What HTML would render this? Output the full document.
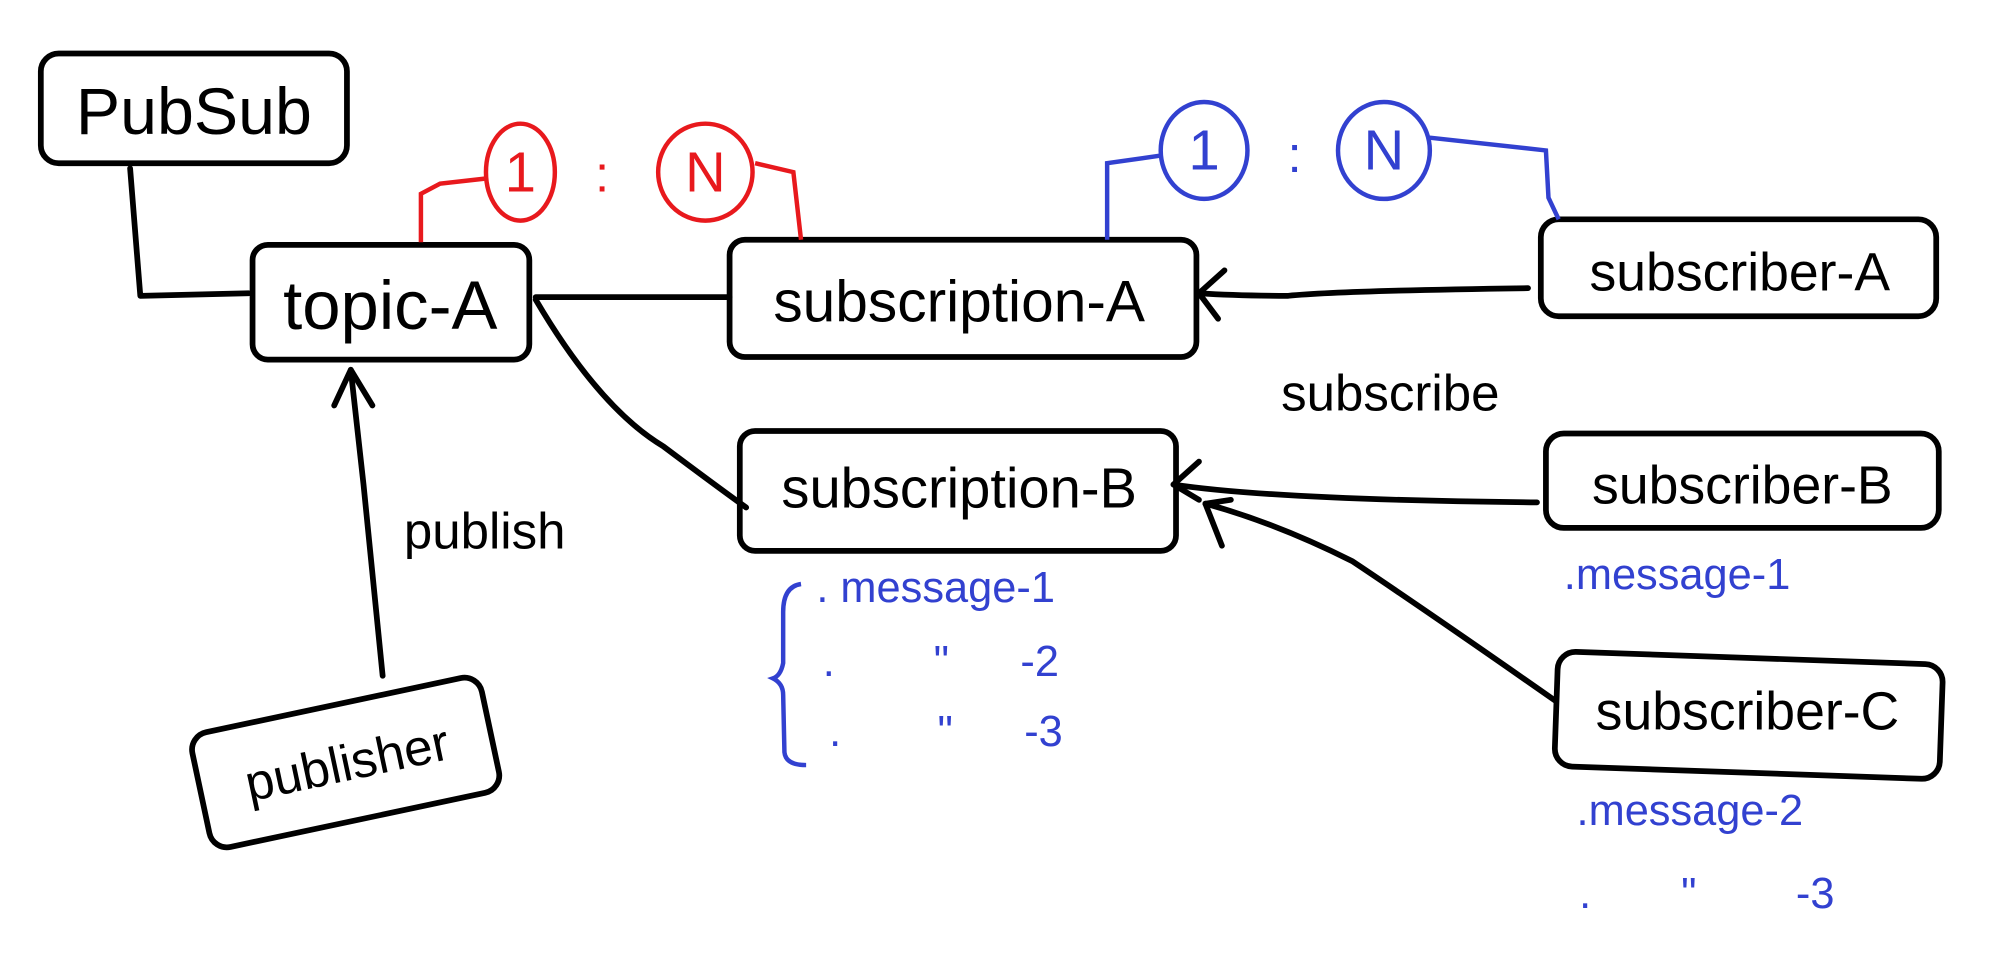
<!DOCTYPE html>
<html><head><style>
html,body{margin:0;padding:0;background:#fff;}
svg{display:block;}
text{font-family:"Liberation Sans Narrow","Liberation Sans",sans-serif;}
</style></head><body>
<svg width="2000" height="978" viewBox="0 0 1568 767" preserveAspectRatio="none" xmlns="http://www.w3.org/2000/svg">
<g fill="none" stroke="#000" stroke-width="4.5" stroke-linecap="round" stroke-linejoin="round">
<rect x="32" y="42" width="240" height="86" rx="14"/>
<rect x="198" y="192" width="217" height="90" rx="12"/>
<rect x="572" y="188" width="366" height="92" rx="12"/>
<rect x="1208" y="172" width="310" height="76" rx="14"/>
<rect x="580" y="338" width="342" height="94" rx="12"/>
<rect x="1212" y="340" width="308" height="74" rx="14"/>
<rect x="1220" y="516" width="302" height="90" rx="14" transform="rotate(2 1371 561)"/>
<rect x="155" y="552" width="232" height="92" rx="14" transform="rotate(-12 271 598)"/>
<path d="M102 132 L110 232 L195 230"/>
<path d="M420 233 L572 233"/>
<path d="M420 235 Q470 320 520 350 Q560 380 585 398"/>
<path d="M1198 226 Q1050 228 1010 232 Q970 232 940 230"/>
<path d="M960 212 L940 230 L955 250"/>
<path d="M1205 394 Q1000 392 920 380"/>
<path d="M940 362 L920 380 L940 392"/>
<path d="M1220 550 Q1120 480 1060 440 Q1000 410 945 395"/>
<path d="M965 392 L945 395 L958 428"/>
<path d="M300 530 L285 380 L275 290"/>
<path d="M262 318 L275 290 L292 318"/>
</g>
<g fill="none" stroke="#e8191d" stroke-width="3.5">
<ellipse cx="408" cy="135" rx="27" ry="38"/>
<ellipse cx="553" cy="135" rx="37" ry="38"/>
<path d="M330 190 L330 152 L345 144 L381 140"/>
<path d="M592 128 L622 135 L628 188"/>
</g>
<g fill="none" stroke="#3241d0" stroke-width="3.5">
<ellipse cx="944" cy="118" rx="34" ry="38"/>
<ellipse cx="1085" cy="118" rx="36" ry="38"/>
<path d="M868 188 L868 128 L910 122"/>
<path d="M1121 108 L1212 118 L1214 155 L1222 172"/>
<path d="M628 458 Q614 460 614 480 L614 520 Q612 530 606 532 Q614 536 614 545 L615 590 Q616 600 632 600"/>
</g>
<g fill="#e8191d" text-anchor="middle">
<text x="408" y="150" font-size="44">1</text>
<text x="553" y="150" font-size="44">N</text>
<text x="472" y="150" font-size="40">:</text>
</g>
<g fill="#3241d0" text-anchor="middle">
<text x="944" y="133" font-size="44">1</text>
<text x="1085" y="133" font-size="44">N</text>
<text x="1015" y="135" font-size="40">:</text>
</g>
<g fill="#000">
<text x="152" y="105" font-size="52" text-anchor="middle">PubSub</text>
<text x="306" y="258" font-size="54" text-anchor="middle">topic-A</text>
<text x="752" y="252" font-size="46" text-anchor="middle">subscription-A</text>
<text x="1364" y="228" font-size="42" text-anchor="middle">subscriber-A</text>
<text x="752" y="398" font-size="44" text-anchor="middle">subscription-B</text>
<text x="1366" y="395" font-size="42" text-anchor="middle">subscriber-B</text>
<text x="1370" y="572" font-size="42" text-anchor="middle">subscriber-C</text>
<text x="272" y="612" font-size="40" text-anchor="middle" transform="rotate(-12 272 598)">publisher</text>
<text x="1090" y="322" font-size="40" text-anchor="middle">subscribe</text>
<text x="380" y="430" font-size="40" text-anchor="middle">publish</text>
</g>
<g fill="#3241d0" font-size="34">
<text x="640" y="472">. message-1</text>
<text x="645" y="530">.</text><text x="732" y="530">"</text><text x="800" y="530">-2</text>
<text x="650" y="585">.</text><text x="735" y="585">"</text><text x="803" y="585">-3</text>
<text x="1226" y="462">.message-1</text>
<text x="1236" y="647">.message-2</text>
<text x="1238" y="712">.</text><text x="1318" y="712">"</text><text x="1408" y="712">-3</text>
</g>
</svg>
</body></html>
